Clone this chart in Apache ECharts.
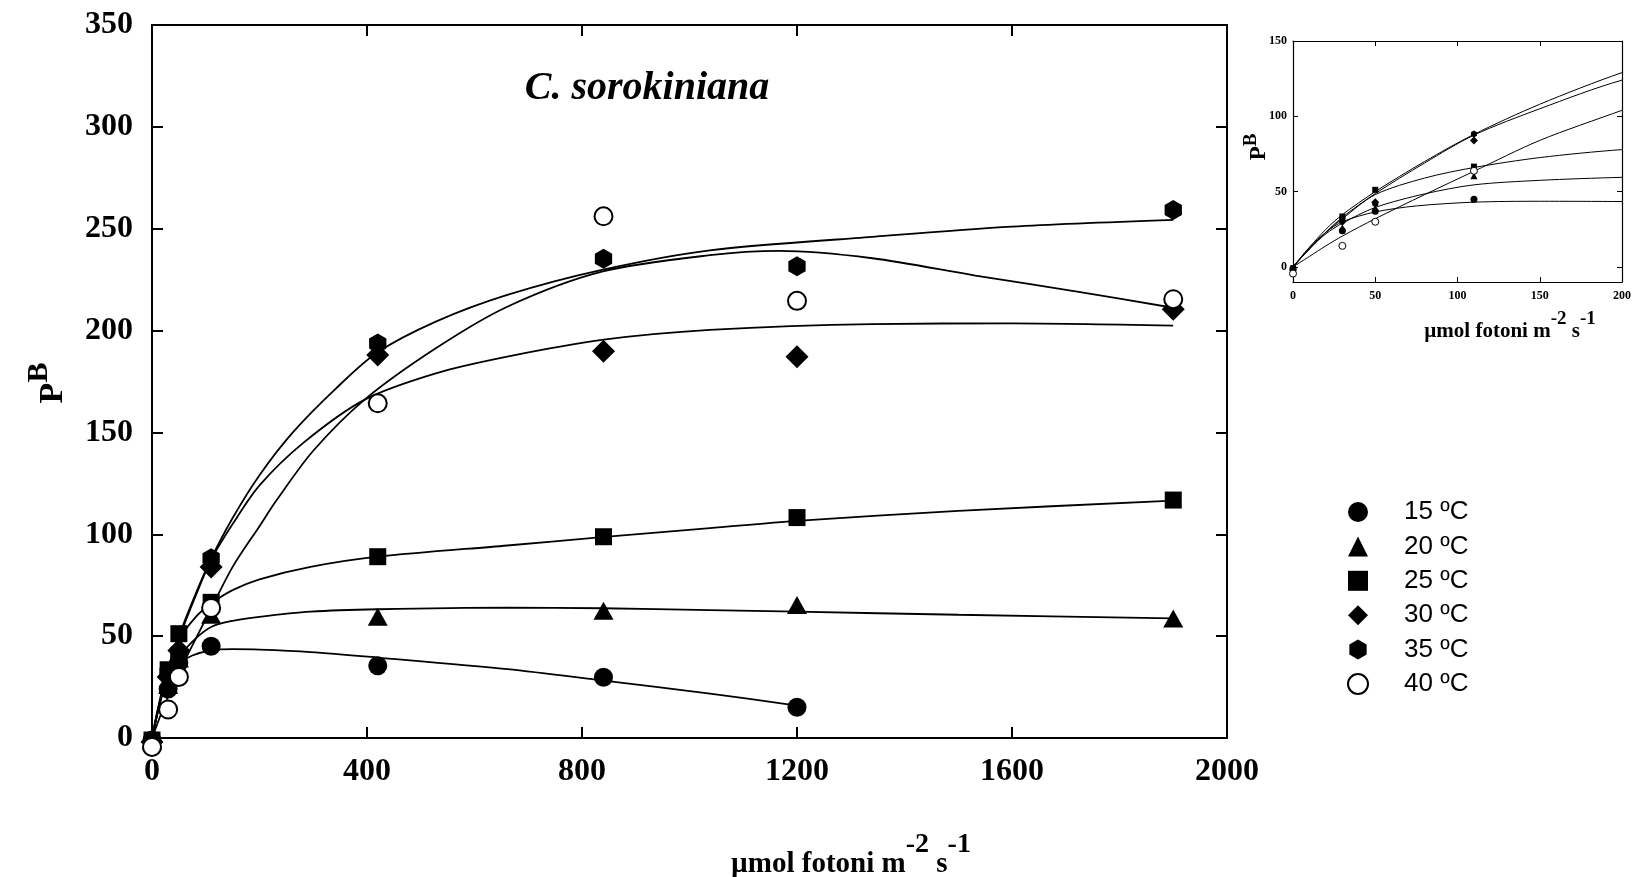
<!DOCTYPE html>
<html>
<head>
<meta charset="utf-8">
<script src="https://cdn.jsdelivr.net/npm/echarts@6/dist/echarts.min.js"></script>
<style>
  html, body { margin: 0; padding: 0; background: #fff; }
  #chart { width: 1634px; height: 877px; }
</style>
</head>
<body>
<div id="chart"></div>
<script>
// Light intensities (µmol fotoni m-2 s-1) at which P^B was measured
const lightX = [0, 30, 50, 110, 420, 840, 1200, 1900];

// Measured P^B at each temperature (null = not measured)
const pb15 = [-1, 24, 37, 45, 35.5, 29.8, 15.1, null];
const pb20 = [-1.5, 26, 39, 60.5, 59.5, 62.5, 65.3, 58.7];
const pb25 = [-1, 33.5, 51.2, 66.6, 89, 98.8, 108.2, 116.8];
const pb30 = [-2, 30, 43, 84, 188, 189.8, 187.2, 210.5];
const pb35 = [-3, 32, 42, 88.2, 193.6, 235.2, 231.6, 259.2];
const pb40 = [-4.4, 14, 30, 63.8, 164.3, 256.1, 214.6, 215.4];

// Fitted P-I curves, [light, P^B]
const fit15 = [[0,0],[10,13],[20,23],[30,30],[50,36.5],[75,40.5],[110,43],[150,43.6],[200,43.4],[295,42.2],[420,39.5],[661,33.8],[837,28.3],[1038,21.8],[1200,15.9]];
const fit20 = [[0,0],[10,12],[20,22],[30,29],[50,39.5],[80,48.5],[110,54.5],[150,57.5],[200,59.5],[295,62],[420,63.2],[661,64],[837,63.7],[1038,62.8],[1200,62],[1500,60.5],[1900,58.7]];
const fit25 = [[0,0],[10,12],[20,23],[30,32],[50,48],[80,59],[110,66],[150,72.6],[200,77.9],[295,84],[420,89],[661,94.5],[837,98.6],[1038,103],[1200,106.6],[1500,111.5],[1900,116.5]];
const fit30 = [[0,0],[10,12],[20,23],[30,33],[50,48.7],[80,69],[110,87.5],[150,105],[200,124],[282,145],[395,166],[528,179],[661,187.2],[837,195.4],[1038,200.3],[1340,203.2],[1600,203.5],[1900,202.4]];
const fit35 = [[0,0],[10,13],[20,25],[30,34.7],[50,50],[80,70],[110,88],[150,108],[200,129],[262,150],[342,171.5],[419,189.2],[528,204.4],[661,217.5],[837,229.8],[1038,239.4],[1340,246],[1600,251],[1900,254.3]];
const fit40 = [[0,0],[10,7],[20,14],[30,20.5],[50,32],[80,48],[110,63.5],[150,84],[200,104],[232,116.8],[300,141],[395,166],[528,191.3],[661,211.7],[837,228.9],[1038,237],[1167,239.1],[1340,235.5],[1532,227],[1724,219],[1900,211.2]];

const tempNames = ['15 ºC', '20 ºC', '25 ºC', '30 ºC', '35 ºC', '40 ºC'];

// Axis tick values
const mainXTicks = [0, 400, 800, 1200, 1600, 2000];
const mainYTicks = [0, 50, 100, 150, 200, 250, 300, 350];
const insetXTicks = [0, 50, 100, 150, 200];
const insetYTicks = [0, 50, 100, 150];

const HEX = 'path://M0,-10L8.66,-5L8.66,5L0,10L-8.66,5L-8.66,-5Z';

const groups = [
  { pts: pb15, fit: fit15, symbol: 'circle',   size: 19,         small: 7,      open: false },
  { pts: pb20, fit: fit20, symbol: 'triangle', size: [20, 18],   small: [7, 7], open: false },
  { pts: pb25, fit: fit25, symbol: 'rect',     size: 17,         small: 6,      open: false },
  { pts: pb30, fit: fit30, symbol: 'diamond',  size: 23,         small: 8,      open: false },
  { pts: pb35, fit: fit35, symbol: HEX,        size: [17.3, 20], small: [6, 7], open: false },
  { pts: pb40, fit: fit40, symbol: 'circle',   size: 18,         small: 7,      open: true  }
];

const serif = '"Liberation Serif", "Times New Roman", serif';
const sans = '"Liberation Sans", Arial, sans-serif';
const black = '#000';

function pointsOf(arr) {
  const out = [];
  lightX.forEach((x, i) => { if (arr[i] !== null) out.push([x, arr[i]]); });
  return out;
}

// --- text with superscripts, laid out from measured widths ---
const measureCtx = document.createElement('canvas').getContext('2d');
function textWidth(str, font) { measureCtx.font = font; return measureCtx.measureText(str).width; }

// parts: [text, isSuperscript]; children centred horizontally on x = 0, bottom at y = 0
function supTextChildren(parts, size, supSize, raise) {
  const mainFont = 'bold ' + size + 'px ' + serif;
  const supFont = 'bold ' + supSize + 'px ' + serif;
  const widths = parts.map(p => textWidth(p[0], p[1] ? supFont : mainFont));
  const total = widths.reduce((a, b) => a + b, 0);
  let x = -total / 2;
  return parts.map((p, i) => {
    const el = {
      type: 'text', x: x, y: p[1] ? -raise : 0, silent: true,
      style: { text: p[0], font: p[1] ? supFont : mainFont, fill: black, align: 'left', verticalAlign: 'bottom' }
    };
    x += widths[i];
    return el;
  });
}

const series = [];
// main-panel fitted curves
groups.forEach((g, i) => {
  series.push({
    type: 'line', name: 'fit ' + tempNames[i], xAxisIndex: 0, yAxisIndex: 0,
    data: g.fit, smooth: 0.3, showSymbol: false, silent: true,
    lineStyle: { color: black, width: 1.8 }, z: 2, clip: false
  });
});
// main-panel measurements
groups.forEach((g, i) => {
  series.push({
    type: 'scatter', name: tempNames[i], xAxisIndex: 0, yAxisIndex: 0,
    data: pointsOf(g.pts), symbol: g.symbol, symbolSize: g.size, clip: false,
    itemStyle: g.open ? { color: '#fff', borderColor: black, borderWidth: 2, opacity: 1 }
                      : { color: black, borderWidth: 0, opacity: 1 },
    z: 3 + i
  });
});
// inset curves (low-light region)
groups.forEach((g, i) => {
  series.push({
    type: 'line', name: 'inset fit ' + tempNames[i], xAxisIndex: 2, yAxisIndex: 2,
    data: g.fit, smooth: 0.3, showSymbol: false, silent: true,
    lineStyle: { color: black, width: 1 }, z: 2, clip: true
  });
});
// inset measurements
groups.forEach((g, i) => {
  series.push({
    type: 'scatter', name: 'inset ' + tempNames[i], xAxisIndex: 2, yAxisIndex: 2,
    data: pointsOf(g.pts), symbol: g.symbol, symbolSize: g.small, clip: true,
    itemStyle: g.open ? { color: '#fff', borderColor: black, borderWidth: 1, opacity: 1 }
                      : { color: black, borderWidth: 0, opacity: 1 },
    z: 3 + i
  });
});

function frameAxis(extra) {
  return Object.assign({
    type: 'value',
    splitLine: { show: false },
    axisLine: { show: true, onZero: false, lineStyle: { color: black, width: 2 } },
    axisTick: { show: true, inside: true, length: 11, lineStyle: { color: black, width: 2 } },
    axisLabel: { show: false }
  }, extra);
}
const insetLine = { show: true, onZero: false, lineStyle: { color: black, width: 1.2 } };
function insetTick(vals) {
  const t = { show: true, inside: true, length: 5, lineStyle: { color: black, width: 1 } };
  if (vals) t.customValues = vals;
  return t;
}
const plain = v => String(v);
const mainLabel = { show: true, fontFamily: serif, fontWeight: 'bold', fontSize: 32, color: black, formatter: plain };
const insetLabel = { show: true, fontFamily: serif, fontWeight: 'bold', fontSize: 12, color: black, formatter: plain };

const xName = [['µmol fotoni m', false], ['-2', true], [' s', false], ['-1', true]];
const yName = [['P', false], ['B', true]];

const option = {
  animation: false,
  backgroundColor: '#fff',
  grid: [
    { left: 152, top: 25, width: 1075, height: 713 },
    { left: 1293, top: 41, width: 334, height: 241 }
  ],
  xAxis: [
    frameAxis({ gridIndex: 0, position: 'bottom', min: 0, max: 2000, interval: 400,
      axisLabel: Object.assign({ margin: 18, customValues: mainXTicks }, mainLabel) }),
    frameAxis({ gridIndex: 0, position: 'top', min: 0, max: 2000, interval: 400 }),
    frameAxis({ gridIndex: 1, position: 'bottom', min: 0, max: 200, interval: 50,
      axisLine: insetLine, axisTick: insetTick(),
      axisLabel: Object.assign({ margin: 8, customValues: insetXTicks }, insetLabel) }),
    frameAxis({ gridIndex: 1, position: 'top', min: 0, max: 200, interval: 50,
      axisLine: insetLine, axisTick: insetTick() })
  ],
  yAxis: [
    frameAxis({ gridIndex: 0, position: 'left', min: 0, max: 350, interval: 50,
      axisLabel: Object.assign({ margin: 19, customValues: mainYTicks }, mainLabel) }),
    frameAxis({ gridIndex: 0, position: 'right', min: 0, max: 350, interval: 50 }),
    frameAxis({ gridIndex: 1, position: 'left', min: -10, max: 150,
      axisLine: insetLine, axisTick: insetTick(insetYTicks),
      axisLabel: Object.assign({ margin: 6, customValues: insetYTicks }, insetLabel) }),
    frameAxis({ gridIndex: 1, position: 'right', min: -10, max: 150,
      axisLine: insetLine, axisTick: insetTick(insetYTicks) })
  ],
  legend: {
    data: tempNames,
    orient: 'vertical',
    left: 1342, top: 494,
    itemWidth: 20, itemHeight: 20, itemGap: 8.4,
    selectedMode: false,
    textStyle: { fontFamily: sans, fontSize: 26, lineHeight: 26, color: black, padding: [0, 0, 0, 31] }
  },
  graphic: [
    { type: 'text', x: 647, y: 89, silent: true,
      style: { text: 'C. sorokiniana', font: 'italic bold 40px ' + serif, fill: black, align: 'center', verticalAlign: 'middle' } },
    { type: 'group', x: 851, y: 879, children: supTextChildren(xName, 29, 28, 20) },
    { type: 'group', x: 70, y: 383, rotation: Math.PI / 2, children: supTextChildren(yName, 34, 30, 16) },
    { type: 'group', x: 1271, y: 147, rotation: Math.PI / 2, children: supTextChildren(yName, 23, 19, 10) },
    { type: 'group', x: 1510, y: 342, children: supTextChildren(xName, 21, 19, 13) }
  ],
  series: series
};

const chart = echarts.init(document.getElementById('chart'), null, { renderer: 'canvas' });
chart.setOption(option);
</script>
</body>
</html>
